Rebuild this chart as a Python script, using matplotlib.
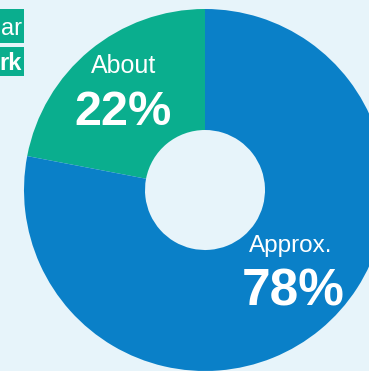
import matplotlib.pyplot as plt
from matplotlib.patches import Rectangle

# share of respondents
labels = ["About", "Approx."]
shares = [22, 78]
colors = ["#0AAE8E", "#0A80C8"]
bg = "#E7F4FA"
tags = ["ar", "rk"]

W, H = 369, 371
fig = plt.figure(figsize=(W / 100, H / 100), dpi=100, facecolor=bg)
ax = fig.add_axes([0, 0, 1, 1])
ax.set_facecolor(bg)

# donut, pixel coords with y going up
cx, cy, r = 205, H - 190, 181
ax.pie(shares, colors=colors, startangle=90, counterclock=True,
       center=(cx, cy), radius=r, wedgeprops=dict(width=r - 60, linewidth=0))

ax.set_xlim(0, W)
ax.set_ylim(0, H)
ax.set_aspect("auto")
ax.axis("off")

fam = ["Liberation Sans Narrow", "Liberation Sans", "DejaVu Sans"]

# labels inside the wedges
ax.text(124, H - 73, labels[0], color="white", fontsize=18, family=fam,
        ha="center", va="baseline")
ax.text(123, H - 125, "%d%%" % shares[0], color="white", fontsize=35,
        fontweight="bold", family=fam, ha="center", va="baseline")
ax.text(291, H - 252, labels[1], color="white", fontsize=17.5, family=fam,
        ha="center", va="baseline")
ax.text(293, H - 305, "%d%%" % shares[1], color="white", fontsize=37,
        fontweight="bold", family=fam, ha="center", va="baseline")

# legend tags at the left edge
ax.add_patch(Rectangle((0, H - 43), 24, 34, color=colors[0], lw=0))
ax.add_patch(Rectangle((0, H - 76), 24, 29, color=colors[0], lw=0))
ax.text(22, H - 35, tags[0], color="white", fontsize=17, family=fam,
        ha="right", va="baseline")
ax.text(22, H - 70, tags[1], color="white", fontsize=17, fontweight="bold",
        family=fam, ha="right", va="baseline")

fig.savefig("out.png", dpi=100, facecolor=bg)
